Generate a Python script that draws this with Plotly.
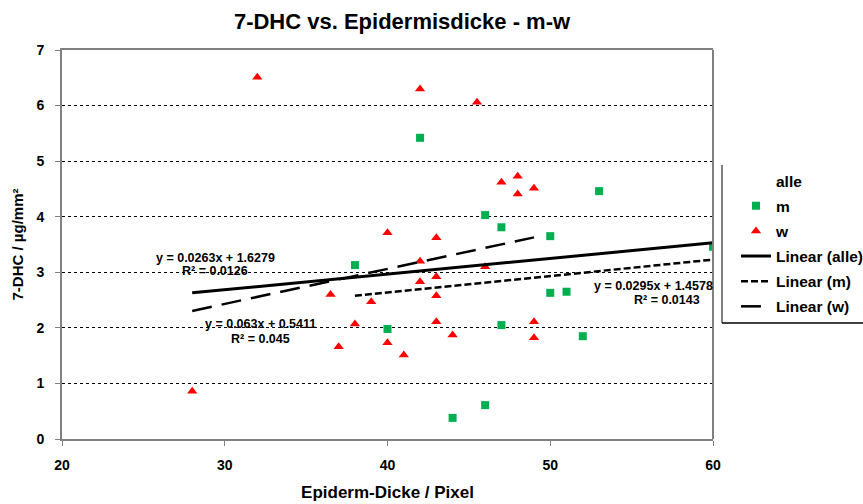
import plotly.graph_objects as go

# Data
m_x = [42, 53, 46, 47, 50, 60, 38, 40, 47, 50, 51, 52, 46, 44]
m_y = [5.42, 4.46, 4.03, 3.81, 3.65, 3.46, 3.13, 1.98, 2.05, 2.63, 2.65, 1.85, 0.61, 0.38]

w_x = [32, 42, 45.5, 47, 48, 48, 49, 40, 43, 42, 46, 36.5, 42, 43, 43, 39, 38, 37, 40, 43, 44, 41, 49, 49, 28]
w_y = [6.51, 6.30, 6.06, 4.62, 4.73, 4.41, 4.51, 3.71, 3.62, 3.20, 3.10, 2.60, 2.83, 2.92, 2.58,
       2.47, 2.07, 1.66, 1.73, 2.11, 1.87, 1.51, 2.11, 1.82, 0.86]

# Trend line endpoints (as drawn in the reference)
alle_tx = [28, 60]
alle_ty = [2.63, 3.53]
m_tx = [38, 60]
m_ty = [2.579, 3.228]
w_tx = [28, 49]
w_ty = [2.305, 3.628]

x_ticks = [20, 30, 40, 50, 60]
y_ticks = [0, 1, 2, 3, 4, 5, 6, 7]

FONT = "Liberation Sans"
GRAY = "#808080"

fig = go.Figure()
fig.add_trace(go.Scatter(x=[None], y=[None], mode="markers", name="alle",
                         marker=dict(color="rgba(0,0,0,0)", size=8), legendgroup="a"))
fig.add_trace(go.Scatter(x=m_x, y=m_y, mode="markers", name="m", legendgroup="b",
                         marker=dict(symbol="square", color="#00B050", size=8)))
fig.add_trace(go.Scatter(x=w_x, y=w_y, mode="markers", name="w", legendgroup="c",
                         marker=dict(symbol="triangle-up", color="#FF0000", size=9)))
fig.add_trace(go.Scatter(x=alle_tx, y=alle_ty, mode="lines", name="Linear (alle)", legendgroup="d",
                         line=dict(color="black", width=3)))
fig.add_trace(go.Scatter(x=m_tx, y=m_ty, mode="lines", name="Linear (m)", legendgroup="e",
                         line=dict(color="black", width=2.5, dash="7px,3px")))
fig.add_trace(go.Scatter(x=w_tx, y=w_ty, mode="lines", name="Linear (w)", legendgroup="f",
                         line=dict(color="black", width=2.5, dash="20px,10px")))

ann_font = dict(family=FONT, size=12.5, color="black", weight="bold")
annotations = [
    dict(x=215, y=258, text="y = 0.0263x + 1.6279"),
    dict(x=215, y=271, text="R² = 0.0126"),
    dict(x=260, y=324, text="y = 0.063x + 0.5411"),
    dict(x=260, y=339, text="R² = 0.045"),
    dict(x=653, y=286, text="y = 0.0295x + 1.4578"),
    dict(x=667, y=300, text="R² = 0.0143"),
]
L, R, T, B = 62, 150, 50, 65
W, H = 863, 504
pw, ph = W - L - R, H - T - B
anns = []
for a in annotations:
    anns.append(dict(xref="paper", yref="paper",
                     x=(a["x"] - L) / pw, y=(H - B - a["y"]) / ph,
                     text=a["text"], showarrow=False, font=ann_font,
                     xanchor="center", yanchor="middle"))

fig.update_layout(
    width=W, height=H,
    margin=dict(l=L, r=R, t=T, b=B, autoexpand=False),
    paper_bgcolor="white", plot_bgcolor="white",
    font=dict(family=FONT, color="black"),
    title=dict(text="7-DHC vs. Epidermisdicke - m-w", x=(402 - L) / pw, xref="paper",
               xanchor="center", y=1 - 21 / H, yanchor="middle",
               font=dict(family=FONT, size=22, color="black", weight="bold")),
    xaxis=dict(range=[20, 60], tickvals=x_ticks, showgrid=False, zeroline=False,
               automargin=False,
               showline=True, linecolor=GRAY, linewidth=2, mirror=True,
               ticks="outside", ticklen=5, tickcolor=GRAY, ticklabelstandoff=7,
               tickfont=dict(family=FONT, size=14, color="black", weight="bold"),
               title=dict(text="Epiderm-Dicke / Pixel", standoff=14,
                          font=dict(family=FONT, size=17, color="black", weight="bold"))),
    yaxis=dict(range=[0, 7], tickvals=y_ticks, showgrid=True, gridcolor="black",
               griddash="dot", gridwidth=1, zeroline=False, automargin=False,
               showline=True, linecolor=GRAY, linewidth=2,
               ticks="outside", ticklen=5, tickcolor=GRAY, ticklabelstandoff=8,
               tickfont=dict(family=FONT, size=14, color="black", weight="bold"),
               title=dict(text="7-DHC / µg/mm²", standoff=9,
                          font=dict(family=FONT, size=15, color="black", weight="bold"))),
    legend=dict(xref="container", yref="container", x=736 / W, y=(H - 164) / H,
                xanchor="left", yanchor="top",
                bgcolor="rgba(0,0,0,0)", borderwidth=0, tracegroupgap=2,
                font=dict(family=FONT, size=15.5, color="black", weight="bold")),
    annotations=anns,
    shapes=[
        dict(type="line", xref="paper", yref="paper", x0=1, x1=1, y0=0, y1=1,
             line=dict(color=GRAY, width=2)),
        dict(type="line", xref="paper", yref="paper",
             x0=(722 - L) / pw, x1=(870 - L) / pw, y0=(H - B - 323) / ph, y1=(H - B - 323) / ph,
             line=dict(color="black", width=1.5)),
        dict(type="line", xref="paper", yref="paper",
             x0=(722 - L) / pw, x1=(722 - L) / pw, y0=(H - B - 323) / ph, y1=(H - B - 165) / ph,
             line=dict(color="black", width=1)),
    ],
    showlegend=True,
)

fig.write_html("out.html")
